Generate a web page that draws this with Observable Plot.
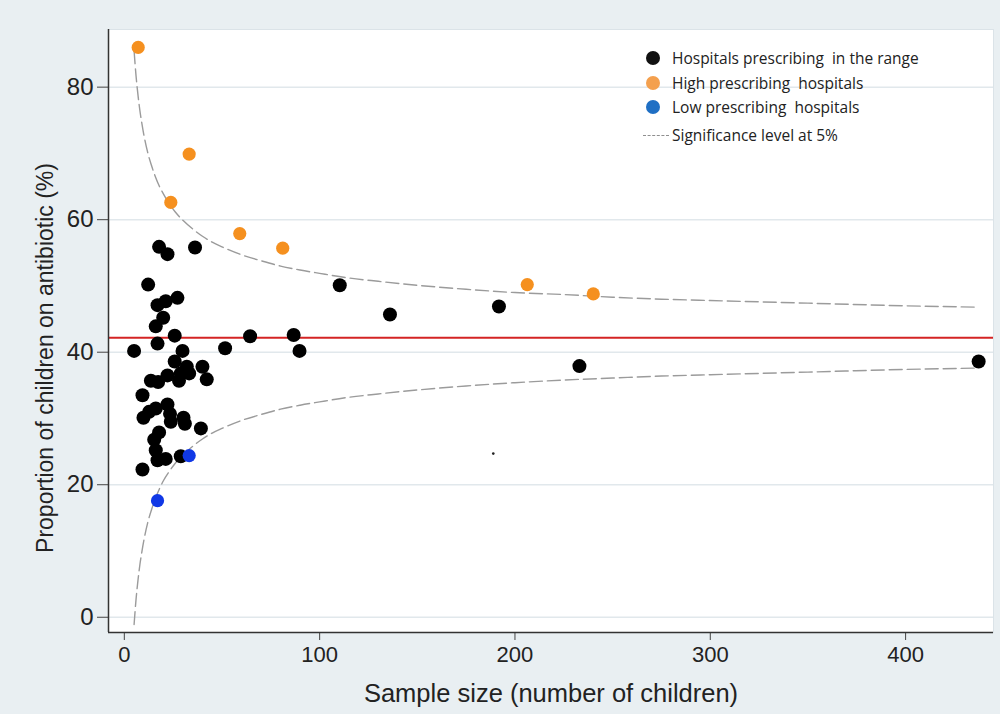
<!DOCTYPE html>
<html>
<head>
<meta charset="utf-8">
<script src="https://cdn.jsdelivr.net/npm/d3@7"></script>
<script src="https://cdn.jsdelivr.net/npm/@observablehq/plot@0.6"></script>
<style>
html, body { margin: 0; padding: 0; background: #e9eff2; }
#wrap { position: relative; width: 1000px; height: 714px; overflow: hidden; }
#chart svg { display: block; background: transparent; }
#chart g[aria-label="x-axis label"] text { font-size: 25.5px; }
#chart g[aria-label="y-axis label"] text { font-size: 23px; }
#legend { position: absolute; left: 640px; top: 48px; font-family: "Open Sans", sans-serif; font-size: 15.5px; color: #222; }
.row { position: absolute; left: 0; white-space: pre; height: 20px; line-height: 20px; }
.sw { position: absolute; left: 6px; top: 3px; width: 14px; height: 14px; border-radius: 50%; }
.dash { position: absolute; left: 3px; top: 10px; width: 26px; border-top: 1.2px dashed #8f8f8f; }
.lab { position: absolute; left: 32px; top: 0; }
</style>
</head>
<body>
<div id="wrap">
  <div id="chart"></div>
  <div id="legend"></div>
</div>
<script>
// ---- Data ----
// Hospitals prescribing in the range (sample size, % on antibiotic)
const inRangeN = [17.8, 22.1, 36.2, 12.2, 27.2, 21.2, 17.0, 19.9, 16.1, 25.8, 17.0, 64.4, 5.0, 51.6, 29.8,
  25.8, 32.0, 40.0, 22.1, 13.6, 17.3, 28.9, 33.2, 28.0, 42.2, 9.3, 22.1, 12.7, 9.8, 16.1, 23.4, 23.8,
  30.3, 31.0, 39.2, 17.8, 15.3, 16.1, 17.0, 21.2, 28.9, 9.3,
  110.3, 136.0, 191.8, 233.0, 437.4, 86.7, 89.7];
const inRangeP = [55.9, 54.8, 55.8, 50.2, 48.2, 47.7, 47.1, 45.2, 43.9, 42.5, 41.3, 42.4, 40.2, 40.6, 40.2,
  38.6, 37.8, 37.8, 36.5, 35.7, 35.5, 36.8, 36.8, 35.7, 35.9, 33.5, 32.1, 31.0, 30.1, 31.5, 30.7, 29.5,
  30.1, 29.2, 28.5, 27.9, 26.8, 25.2, 23.7, 23.9, 24.3, 22.3,
  50.1, 45.7, 46.9, 37.9, 38.6, 42.6, 40.2];
// High prescribing hospitals
const highN = [7.1, 33.2, 23.8, 59.1, 81.1, 206.3, 240.1];
const highP = [86.0, 69.9, 62.6, 57.9, 55.7, 50.2, 48.8];
// Low prescribing hospitals
const lowN = [33.2, 17.0];
const lowP = [24.4, 17.6];
// Tiny stray mark visible in the picture
const strayN = [188.9];
const strayP = [24.7];
// Overall proportion (red line)
const meanRate = 42.2;
// Significance level at 5% (funnel limits)
const limitN = [5, 6, 7, 8, 9, 10, 12, 14, 16, 18, 20, 23, 26, 30, 35, 40, 45, 50, 60, 70, 80, 90, 100,
  115, 130, 150, 175, 200, 225, 250, 275, 300, 350, 400, 437];
const upperLimit = [85.5, 81.7, 78.8, 76.4, 74.5, 72.8, 70.1, 68.1, 66.4, 65.0, 63.9, 62.4, 61.2, 59.9,
  58.6, 57.5, 56.6, 55.9, 54.7, 53.8, 53.0, 52.4, 51.9, 51.2, 50.7, 50.1, 49.5, 49.0, 48.7, 48.3, 48.0,
  47.8, 47.4, 47.0, 46.8];
const lowerLimit = [-1.1, 2.7, 5.6, 8.0, 9.9, 11.6, 14.3, 16.3, 18.0, 19.4, 20.6, 22.0, 23.2, 24.5,
  25.8, 26.9, 27.8, 28.5, 29.7, 30.6, 31.4, 32.0, 32.5, 33.2, 33.7, 34.3, 34.9, 35.4, 35.8, 36.1, 36.4,
  36.6, 37.0, 37.4, 37.6];
// Axes
const xTicks = [0, 100, 200, 300, 400];
const yTicks = [0, 20, 40, 60, 80];
const xDomain = [-8.1, 445];
const yDomain = [-2.3, 88.7];
const xTitle = "Sample size (number of children)";
const yTitle = "Proportion of children on antibiotic (%)";
// Legend
const legendLabels = ["Hospitals prescribing  in the range", "High prescribing  hospitals", "Low prescribing  hospitals", "Significance level at 5%"];
const legendColors = ["#111111", "#f4a04e", "#1f6fc4", null];

// ---- Build tables ----
const zip = (xs, ys) => xs.map((x, i) => ({n: x, p: ys[i]}));
const inRange = zip(inRangeN, inRangeP);
const high = zip(highN, highP);
const low = zip(lowN, lowP);
const stray = zip(strayN, strayP);
const upper = zip(limitN, upperLimit);
const lower = zip(limitN, lowerLimit);

const font = "'Liberation Sans', Arial, sans-serif";

const chart = Plot.plot({
  width: 1000,
  height: 714,
  marginLeft: 108,
  marginRight: 7,
  marginTop: 29,
  marginBottom: 82,
  style: {fontFamily: font, fontSize: "22px", color: "#222", background: "transparent", overflow: "visible"},
  x: {domain: xDomain},
  y: {domain: yDomain},
  marks: [
    Plot.frame({fill: "white", stroke: "#dbe3e8"}),
    Plot.gridY(yTicks, {stroke: "#e1e8ec", strokeOpacity: 1, strokeWidth: 1.5}),
    Plot.ruleY([meanRate], {stroke: "#d42424", strokeWidth: 2}),
    Plot.line(upper, {x: "n", y: "p", stroke: "#9b9b9b", strokeWidth: 1.4, strokeDasharray: "13,5", curve: "monotone-x"}),
    Plot.line(lower, {x: "n", y: "p", stroke: "#9b9b9b", strokeWidth: 1.4, strokeDasharray: "13,5", curve: "monotone-x"}),
    Plot.dot(inRange, {x: "n", y: "p", r: 7, fill: "#000000"}),
    Plot.dot(high, {x: "n", y: "p", r: 6.6, fill: "#f5901f"}),
    Plot.dot(low, {x: "n", y: "p", r: 6.6, fill: "#1038e6"}),
    Plot.dot(stray, {x: "n", y: "p", r: 1.3, fill: "#222"}),
    Plot.axisY(yTicks, {tickSize: 11, tickPadding: 4, fontSize: 24, stroke: "#444", label: yTitle, labelAnchor: "center", labelOffset: 72, labelArrow: "none"}),
    Plot.axisX(xTicks, {tickSize: 8, tickPadding: 6, fontSize: 22, stroke: "#444", label: xTitle, labelAnchor: "center", labelOffset: 69, labelArrow: "none"}),
    Plot.ruleX([xDomain[0]], {stroke: "#333", strokeWidth: 1.5}),
    Plot.ruleY([yDomain[0]], {stroke: "#333", strokeWidth: 1.5})
  ]
});
document.getElementById("chart").appendChild(chart);

// Shift the y-axis title down a little, as in the reference
const yLab = chart.querySelector('g[aria-label="y-axis label"] text');
if (yLab) {
  const tr = yLab.getAttribute("transform") || "";
  yLab.setAttribute("transform", "translate(0,27) " + tr);
}

// Legend
const legendTops = [0, 25, 49, 77];
const legend = document.getElementById("legend");
legendLabels.forEach((t, i) => {
  const row = document.createElement("div");
  row.className = "row";
  row.style.top = legendTops[i] + "px";
  if (legendColors[i]) {
    const sw = document.createElement("div");
    sw.className = "sw";
    sw.style.background = legendColors[i];
    row.appendChild(sw);
  } else {
    const d = document.createElement("div");
    d.className = "dash";
    row.appendChild(d);
  }
  const lab = document.createElement("span");
  lab.className = "lab";
  lab.textContent = t;
  row.appendChild(lab);
  legend.appendChild(row);
});
</script>
</body>
</html>
